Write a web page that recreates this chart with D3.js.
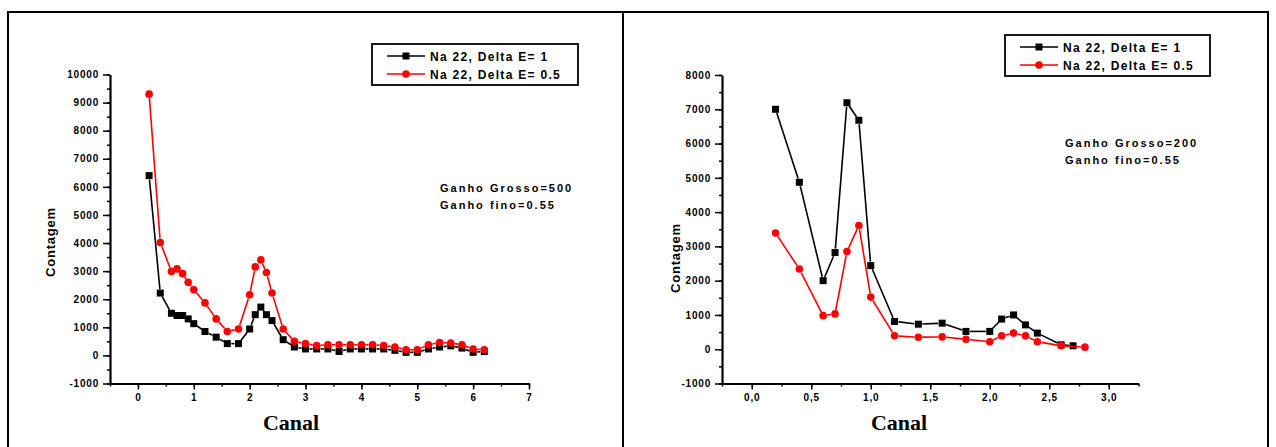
<!DOCTYPE html>
<html>
<head>
<meta charset="utf-8">
<script src="https://cdn.jsdelivr.net/npm/d3@7/dist/d3.min.js"></script>
<style>
  html, body { margin: 0; padding: 0; background: #fff; }
  svg { display: block; }
  .tick text { font-family: "Liberation Sans", Arial, sans-serif; font-weight: bold; font-size: 10px; letter-spacing: 0.8px; fill: #000; }
</style>
</head>
<body>
<svg id="chart" width="1276" height="447"></svg>
<script>
// ---- Data: Na-22 spectra, counts per channel ----
const seriesNames = ["Na 22, Delta E= 1", "Na 22, Delta E= 0.5"];

// Panel A (Ganho Grosso = 500)
const canalA = [0.2, 0.4, 0.6, 0.7, 0.8, 0.9, 1.0, 1.2, 1.4, 1.6, 1.8, 2.0, 2.1, 2.2, 2.3, 2.4, 2.6, 2.8,
                3.0, 3.2, 3.4, 3.6, 3.8, 4.0, 4.2, 4.4, 4.6, 4.8, 5.0, 5.2, 5.4, 5.6, 5.8, 6.0, 6.2];
const contagemA_dE1 = [6400, 2220, 1500, 1420, 1420, 1300, 1130, 850, 650, 420, 420, 940, 1450, 1720, 1450, 1240, 560, 300,
                       230, 230, 230, 140, 230, 230, 230, 230, 180, 110, 110, 230, 300, 340, 260, 110, 140];
const contagemA_dE05 = [9300, 4020, 2990, 3080, 2910, 2600, 2340, 1870, 1300, 850, 940, 2160, 3150, 3400, 2950, 2220, 940, 500,
                        420, 350, 380, 380, 380, 380, 380, 350, 300, 200, 200, 380, 460, 440, 380, 230, 200];

// Panel B (Ganho Grosso = 200)
const canalB_dE1 = [0.2, 0.4, 0.6, 0.7, 0.8, 0.9, 1.0, 1.2, 1.4, 1.6, 1.8, 2.0, 2.1, 2.2, 2.3, 2.4, 2.6, 2.7];
const contagemB_dE1 = [7000, 4870, 2000, 2820, 7190, 6680, 2440, 810, 730, 760, 520, 520, 880, 1000, 710, 470, 130, 100];
const canalB_dE05 = [0.2, 0.4, 0.6, 0.7, 0.8, 0.9, 1.0, 1.2, 1.4, 1.6, 1.8, 2.0, 2.1, 2.2, 2.3, 2.4, 2.6, 2.8];
const contagemB_dE05 = [3390, 2340, 980, 1030, 2850, 3610, 1520, 390, 350, 360, 290, 220, 390, 470, 390, 220, 100, 60];

// Tick values and labels
const yTicksA = [-1000, 0, 1000, 2000, 3000, 4000, 5000, 6000, 7000, 8000, 9000, 10000];
const yLabelsA = ["-1000", "0", "1000", "2000", "3000", "4000", "5000", "6000", "7000", "8000", "9000", "10000"];
const xTicksA = [0, 1, 2, 3, 4, 5, 6, 7];
const xLabelsA = ["0", "1", "2", "3", "4", "5", "6", "7"];
const yTicksB = [-1000, 0, 1000, 2000, 3000, 4000, 5000, 6000, 7000, 8000];
const yLabelsB = ["-1000", "0", "1000", "2000", "3000", "4000", "5000", "6000", "7000", "8000"];
const xTicksB = [0, 0.5, 1.0, 1.5, 2.0, 2.5, 3.0];
const xLabelsB = ["0,0", "0,5", "1,0", "1,5", "2,0", "2,5", "3,0"];

const notesA = ["Ganho Grosso=500", "Ganho fino=0.55"];
const notesB = ["Ganho Grosso=200", "Ganho fino=0.55"];

const COLORS = ["#000000", "#ff0000"];
const svg = d3.select("#chart");

// Outer frame: two-cell table border
svg.append("rect").attr("width", 1276).attr("height", 447).attr("fill", "#fff");
const frame = svg.append("g").attr("stroke", "#000").attr("stroke-width", 2).attr("fill", "none");
frame.append("line").attr("x1", 7).attr("x2", 1269).attr("y1", 12).attr("y2", 12);
frame.append("line").attr("x1", 8).attr("x2", 8).attr("y1", 11).attr("y2", 447);
frame.append("line").attr("x1", 623).attr("x2", 623).attr("y1", 11).attr("y2", 447);
frame.append("line").attr("x1", 1268).attr("x2", 1268).attr("y1", 11).attr("y2", 447);

function range(a, b, step) {
  const out = [];
  for (let v = a; v <= b + 1e-9; v += step) out.push(+v.toFixed(4));
  return out;
}

function marker(g, kind, x, y, color) {
  if (kind === "square") {
    g.append("rect").attr("x", x - 3.5).attr("y", y - 3.5).attr("width", 7).attr("height", 7).attr("fill", color);
  } else {
    g.append("circle").attr("cx", x).attr("cy", y).attr("r", 3.8).attr("fill", color);
  }
}

// Line segments drawn with a small gap around each symbol
function gappedLine(g, pts, color, gap) {
  for (let i = 0; i < pts.length - 1; i++) {
    const [x1, y1] = pts[i], [x2, y2] = pts[i + 1];
    const dx = x2 - x1, dy = y2 - y1, len = Math.hypot(dx, dy);
    if (len <= 2 * gap + 1) continue;
    const ux = dx / len, uy = dy / len;
    g.append("line")
      .attr("x1", x1 + ux * gap).attr("y1", y1 + uy * gap)
      .attr("x2", x2 - ux * gap).attr("y2", y2 - uy * gap)
      .attr("stroke", color).attr("stroke-width", 1.6);
  }
}

function drawPanel(cfg) {
  const x = d3.scaleLinear().domain(cfg.xDomain).range(cfg.xRange);
  const y = d3.scaleLinear().domain(cfg.yDomain).range(cfg.yRange);
  const g = svg.append("g");

  // minor ticks
  g.append("g").attr("transform", `translate(0,${cfg.yRange[0]})`)
    .call(d3.axisBottom(x).tickValues(cfg.xMinor).tickSize(3).tickSizeOuter(0).tickFormat(""))
    .call(a => a.select(".domain").remove());
  g.append("g").attr("transform", `translate(${cfg.xRange[0]},0)`)
    .call(d3.axisLeft(y).tickValues(cfg.yMinor).tickSize(3).tickSizeOuter(0).tickFormat(""))
    .call(a => a.select(".domain").remove());

  // major axes
  g.append("g").attr("transform", `translate(0,${cfg.yRange[0]})`)
    .call(d3.axisBottom(x).tickValues(cfg.xTicks).tickSize(6).tickSizeOuter(0).tickPadding(4)
      .tickFormat((d, i) => cfg.xLabels[i]));
  g.append("g").attr("transform", `translate(${cfg.xRange[0]},0)`)
    .call(d3.axisLeft(y).tickValues(cfg.yTicks).tickSize(7).tickSizeOuter(0).tickPadding(4)
      .tickFormat((d, i) => cfg.yLabels[i]));
  g.selectAll(".domain").attr("stroke-width", 2.2);
  g.selectAll(".tick line").attr("stroke-width", 1.5);

  // series
  cfg.series.forEach((s, si) => {
    const pts = s.x.map((v, i) => [x(v), y(s.y[i])]);
    const sg = g.append("g");
    gappedLine(sg, pts, COLORS[si], 4);
    pts.forEach(p => marker(sg, si === 0 ? "square" : "circle", p[0], p[1], COLORS[si]));
  });

  // legend
  const lg = g.append("g");
  lg.append("rect").attr("x", cfg.legend.x).attr("y", cfg.legend.y)
    .attr("width", cfg.legend.w).attr("height", cfg.legend.h)
    .attr("fill", "#fff").attr("stroke", "#000").attr("stroke-width", 1.8);
  seriesNames.forEach((name, i) => {
    const ry = cfg.legend.y + 12 + i * 18;
    const lx = cfg.legend.x + 15;
    lg.append("line").attr("x1", lx).attr("x2", lx + 38).attr("y1", ry).attr("y2", ry)
      .attr("stroke", COLORS[i]).attr("stroke-width", 1.6);
    marker(lg, i === 0 ? "square" : "circle", lx + 19, ry, COLORS[i]);
    lg.append("text").attr("x", lx + 43).attr("y", ry + 4.5)
      .attr("font-family", "Liberation Sans, Arial, sans-serif").attr("font-weight", "bold")
      .attr("font-size", 12).attr("letter-spacing", 1.3).text(name);
  });

  // annotation
  cfg.notes.forEach((t, i) => {
    g.append("text").attr("x", cfg.noteX).attr("y", cfg.noteY + i * 17)
      .attr("font-family", "Liberation Sans, Arial, sans-serif").attr("font-weight", "bold")
      .attr("font-size", 11).attr("letter-spacing", 2).text(t);
  });

  // axis titles
  g.append("text").attr("transform", `translate(${cfg.yTitleX},${cfg.yTitleY}) rotate(-90)`)
    .attr("text-anchor", "middle")
    .attr("font-family", "Liberation Sans, Arial, sans-serif").attr("font-weight", "bold")
    .attr("font-size", 13).attr("letter-spacing", 0.8).text("Contagem");
  g.append("text").attr("x", cfg.xTitleX).attr("y", 430).attr("text-anchor", "middle")
    .attr("font-family", "Liberation Serif, 'Times New Roman', serif").attr("font-weight", "bold")
    .attr("font-size", 22).text("Canal");
}

drawPanel({
  xDomain: [-0.5, 7], xRange: [110, 529],
  yDomain: [-1000, 10000], yRange: [383.5, 74.5],
  xTicks: xTicksA, xLabels: xLabelsA, xMinor: range(-0.5, 7, 0.5),
  yTicks: yTicksA, yLabels: yLabelsA, yMinor: range(-1000, 10000, 500),
  series: [{ x: canalA, y: contagemA_dE1 }, { x: canalA, y: contagemA_dE05 }],
  legend: { x: 372, y: 44, w: 206, h: 41 },
  notes: notesA, noteX: 440, noteY: 192,
  yTitleX: 55, yTitleY: 242, xTitleX: 291
});

drawPanel({
  xDomain: [-0.25, 3.25], xRange: [722, 1138.5],
  yDomain: [-1000, 8000], yRange: [383.5, 75],
  xTicks: xTicksB, xLabels: xLabelsB, xMinor: range(-0.25, 3.25, 0.25),
  yTicks: yTicksB, yLabels: yLabelsB, yMinor: range(-1000, 8000, 500),
  series: [{ x: canalB_dE1, y: contagemB_dE1 }, { x: canalB_dE05, y: contagemB_dE05 }],
  legend: { x: 1005, y: 35, w: 205, h: 41 },
  notes: notesB, noteX: 1065, noteY: 147,
  yTitleX: 680, yTitleY: 258, xTitleX: 899
});
</script>
</body>
</html>
